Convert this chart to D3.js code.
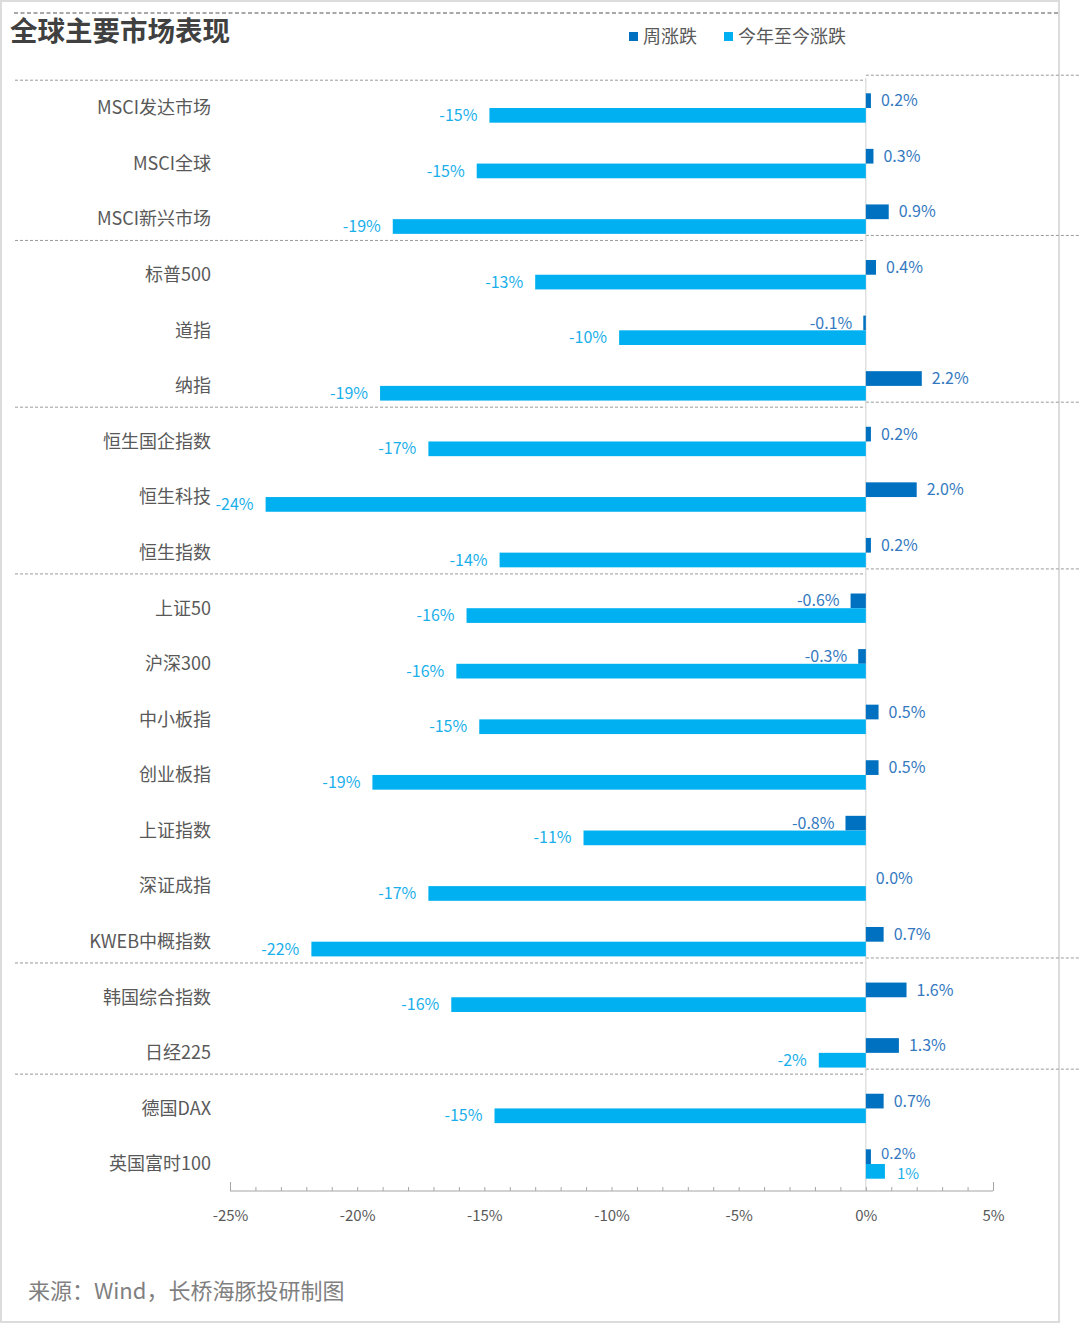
<!DOCTYPE html>
<html>
<head>
<meta charset="utf-8">
<script src="https://cdn.jsdelivr.net/npm/d3@7"></script>
<style>
  html, body { margin: 0; padding: 0; background: #fff; }
  svg { display: block; }
  text { font-family: "Noto Sans CJK SC", "Noto Sans", sans-serif; }
</style>
</head>
<body>
<svg id="chart" width="1080" height="1324"></svg>
<script>
// ---- data ----
const categories = ["MSCI发达市场","MSCI全球","MSCI新兴市场","标普500","道指","纳指","恒生国企指数","恒生科技","恒生指数","上证50","沪深300","中小板指","创业板指","上证指数","深证成指","KWEB中概指数","韩国综合指数","日经225","德国DAX","英国富时100"];
const weekChange = [0.2,0.3,0.9,0.4,-0.1,2.2,0.2,2.0,0.2,-0.6,-0.3,0.5,0.5,-0.8,0.0,0.7,1.6,1.3,0.7,0.2];
const ytdChange = [-14.8,-15.3,-18.6,-13.0,-9.7,-19.1,-17.2,-23.6,-14.4,-15.7,-16.1,-15.2,-19.4,-11.1,-17.2,-21.8,-16.3,-1.85,-14.6,0.75];
const seriesNames = ["周涨跌","今年至今涨跌"];
const tickLabels = [-25,-20,-15,-10,-5,0,5];
const groupBreaks = [3,6,9,16,18]; // separators after these many categories

const colors = {week: "#0070C0", ytd: "#00B0F0", weekText: "#3479BF", ytdText: "#1AAFEA"};

const loc = d3.formatLocale({decimal: ".", thousands: ",", grouping: [3], currency: ["", ""], minus: "-"});

const svg = d3.select("#chart");

// frame
svg.append("rect").attr("x",1).attr("y",1).attr("width",1058).attr("height",1321)
  .attr("fill","none").attr("stroke","#dcdcdc").attr("stroke-width",2);

// scales
const x = d3.scaleLinear().domain([-25,5]).range([230,993]);
const y = d3.scaleBand().domain(categories).range([80.2,1191.8]).paddingInner(0.471).paddingOuter(0.2355);
const sub = d3.scaleBand().domain(["week","ytd"]).range([0,y.bandwidth()]);

// top dashed line
svg.append("line").attr("x1",14).attr("x2",1058).attr("y1",13).attr("y2",13)
  .attr("stroke","#8c8c8c").attr("stroke-width",1.6).attr("stroke-dasharray","4,2.5");

// group separators
const sepData = [0].concat(groupBreaks).map(i => {
  const b = y.range()[0] + i*y.step();
  return i === 0 ? b : b - 6.5;
});
const sepG = svg.append("g");
sepData.forEach(v => {
  sepG.append("line").attr("x1",15).attr("x2",x(0)).attr("y1",v).attr("y2",v)
    .attr("stroke","#9a9a9a").attr("stroke-width",1).attr("stroke-dasharray","3,2");
  sepG.append("line").attr("x1",x(0)).attr("x2",1080).attr("y1",v-5).attr("y2",v-5)
    .attr("stroke","#9a9a9a").attr("stroke-width",1).attr("stroke-dasharray","3,2");
});

// zero line
svg.append("line").attr("x1",x(0)).attr("x2",x(0)).attr("y1",78).attr("y2",1191)
  .attr("stroke","#d9d9d9").attr("stroke-width",1.2);

// title
svg.append("text").attr("x",10).attr("y",41).text("全球主要市场表现")
  .attr("font-size",27.5).attr("font-weight",700).attr("fill","#404040");

// legend
const legend = svg.append("g");
const legX = [629, 724];
seriesNames.forEach((n,i) => {
  legend.append("rect").attr("x",legX[i]).attr("y",32).attr("width",9).attr("height",9)
    .attr("fill", i===0 ? colors.week : colors.ytd);
  legend.append("text").attr("x",legX[i]+14).attr("y",43).text(n)
    .attr("font-size",18).attr("fill","#595959");
});

// category labels
svg.append("g").selectAll("text").data(categories).join("text")
  .attr("x",211).attr("y",d => y(d)+y.bandwidth()/2).attr("dy","0.35em")
  .attr("text-anchor","end").attr("font-size",18).attr("fill","#595959").text(d => d);

const rows = categories.map((c,i) => ({c, week: weekChange[i], ytd: ytdChange[i]}));
// rows where both labels sit on the same side: nudge them apart slightly
const nudge = d => (d.week >= 0 && d.ytd >= 0) ? 2.5 : 0;

// bars
const bars = svg.append("g");
bars.selectAll("rect.week").data(rows).join("rect").attr("class","week")
  .attr("x",d => x(Math.min(0,d.week))).attr("width",d => Math.abs(x(d.week)-x(0)))
  .attr("y",d => y(d.c)+sub("week")).attr("height",sub.bandwidth()).attr("fill",colors.week);
bars.selectAll("rect.ytd").data(rows).join("rect").attr("class","ytd")
  .attr("x",d => x(Math.min(0,d.ytd))).attr("width",d => Math.abs(x(d.ytd)-x(0)))
  .attr("y",d => y(d.c)+sub("ytd")).attr("height",sub.bandwidth()).attr("fill",colors.ytd);

// value labels
const fmtW = v => loc.format(".1f")(v) + "%";
const fmtY = v => loc.format(".0f")(v) + "%";
const lab = svg.append("g");
lab.selectAll("text.w").data(rows).join("text").attr("class","w")
  .attr("x",d => d.week >= 0 ? x(d.week)+10 : x(d.week)-11)
  .attr("text-anchor",d => d.week >= 0 ? "start" : "end")
  .attr("y",d => y(d.c)+sub("week")+sub.bandwidth()/2 - nudge(d)).attr("dy","0.35em")
  .attr("font-size",d => nudge(d) ? 15 : 16).attr("fill",colors.weekText).text(d => fmtW(d.week));
lab.selectAll("text.y").data(rows).join("text").attr("class","y")
  .attr("x",d => d.ytd >= 0 ? x(d.ytd)+12 : x(d.ytd)-12)
  .attr("text-anchor",d => d.ytd >= 0 ? "start" : "end")
  .attr("y",d => y(d.c)+sub("ytd")+sub.bandwidth()/2 + nudge(d)).attr("dy","0.35em")
  .attr("font-size",d => nudge(d) ? 15 : 16).attr("fill",colors.ytdText).text(d => fmtY(d.ytd));

// x axis
const axisY = 1191;
const allTicks = d3.range(-25,6,1);
const axis = d3.axisBottom(x).tickValues(allTicks).tickSize(-4).tickPadding(19)
  .tickFormat(v => tickLabels.includes(v) ? v + "%" : "");
const ag = svg.append("g").attr("transform",`translate(0,${axisY})`).call(axis);
ag.select(".domain").attr("stroke","#a6a6a6").attr("d",`M${x(-25)},0H${x(5)}`);
ag.selectAll(".tick line").attr("stroke","#a6a6a6")
  .attr("y2",d => (d === -25 || d === 5) ? -9 : -4);
ag.selectAll(".tick text").attr("font-size",15).attr("fill","#595959")
  .attr("font-family","\"Noto Sans CJK SC\", sans-serif");

// source
svg.append("text").attr("x",28).attr("y",1299).text("来源：Wind，长桥海豚投研制图")
  .attr("font-size",22).attr("fill","#7f7f7f");
</script>
</body>
</html>
